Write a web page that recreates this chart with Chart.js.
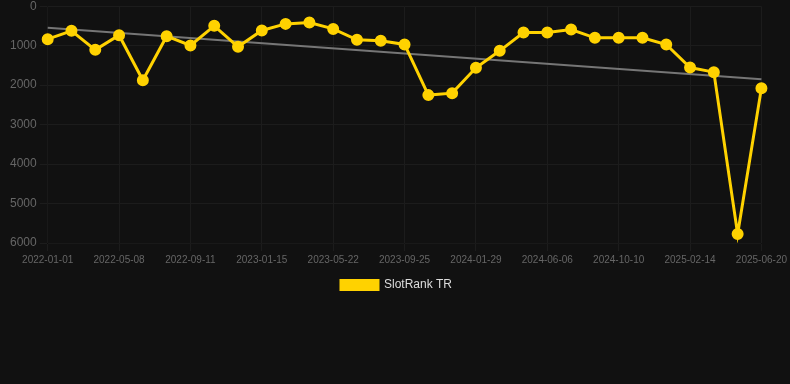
<!DOCTYPE html>
<html>
<head>
<meta charset="utf-8">
<script src="https://cdn.jsdelivr.net/npm/chart.js@4"></script>
<style>
  body { margin: 0; background: #111111; overflow: hidden; }
  #wrap { width: 790px; height: 305px; margin-top: -4px; }
</style>
</head>
<body>
<div id="wrap"><canvas id="myChart"></canvas></div>
<script>
// dates on the x axis (one point every ~6 weeks)
const dates = [
  '2022-01-01', '2022-02-12', '2022-03-26', '2022-05-08', '2022-06-19', '2022-07-31',
  '2022-09-11', '2022-10-23', '2022-12-04', '2023-01-15', '2023-02-26', '2023-04-09',
  '2023-05-22', '2023-07-03', '2023-08-14', '2023-09-25', '2023-11-06', '2023-12-18',
  '2024-01-29', '2024-03-12', '2024-04-24', '2024-06-06', '2024-07-18', '2024-08-29',
  '2024-10-10', '2024-11-21', '2025-01-02', '2025-02-14', '2025-03-28', '2025-05-09',
  '2025-06-20'
];

// rank values (lower is better, axis is reversed)
const rankTR = [
  835, 625, 1105, 735, 1875, 760, 995, 498, 1030, 615, 448, 413,
  575, 853, 878, 970, 2253, 2203, 1562, 1131, 667, 667, 591, 802,
  802, 802, 970, 1553, 1671, 5772, 2076
];

// trend line, only first and last point
const trend = [549, null, null, null, null, null, null, null, null, null, null, null,
  null, null, null, null, null, null, null, null, null, null, null, null,
  null, null, null, null, null, null, 1848];

const myChart = document.getElementById('myChart');

let lineChart = new Chart(myChart, {
  type: 'line',
  data: {
    labels: dates,
    datasets: [{
      label: 'SlotRank TR',
      data: rankTR,
      borderColor: '#ffd200',
      backgroundColor: '#ffd200',
      borderWidth: 3,
      pointRadius: 4.5,
      pointHoverRadius: 6,
      tension: 0,
      order: 1
    }, {
      label: 'trend',
      data: trend,
      borderColor: '#767676',
      borderWidth: 2,
      pointRadius: 0,
      spanGaps: true,
      order: 2
    }]
  },
  options: {
    responsive: true,
    maintainAspectRatio: false,
    animation: false,
    layout: { padding: { left: 7, right: 4 } },
    plugins: {
      legend: {
        position: 'bottom',
        labels: {
          color: '#dddddd',
          boxWidth: 37,
          boxHeight: 9,
          font: { size: 12, family: 'Liberation Sans, Arial, sans-serif' },
          filter: item => item.text !== 'trend'
        }
      },
      tooltip: { enabled: false }
    },
    scales: {
      x: {
        grid: { color: '#1c1c1c' },
        ticks: {
          color: '#666666',
          maxRotation: 0,
          autoSkip: true,
          maxTicksLimit: 11,
          font: { size: 10, family: 'Liberation Sans, Arial, sans-serif' }
        }
      },
      y: {
        reverse: true,
        min: 0,
        max: 6000,
        grid: { color: '#1c1c1c' },
        ticks: {
          color: '#666666',
          stepSize: 1000,
          callback: v => v,
          font: { size: 12, family: 'Liberation Sans, Arial, sans-serif' }
        }
      }
    }
  }
});
</script>
</body>
</html>
